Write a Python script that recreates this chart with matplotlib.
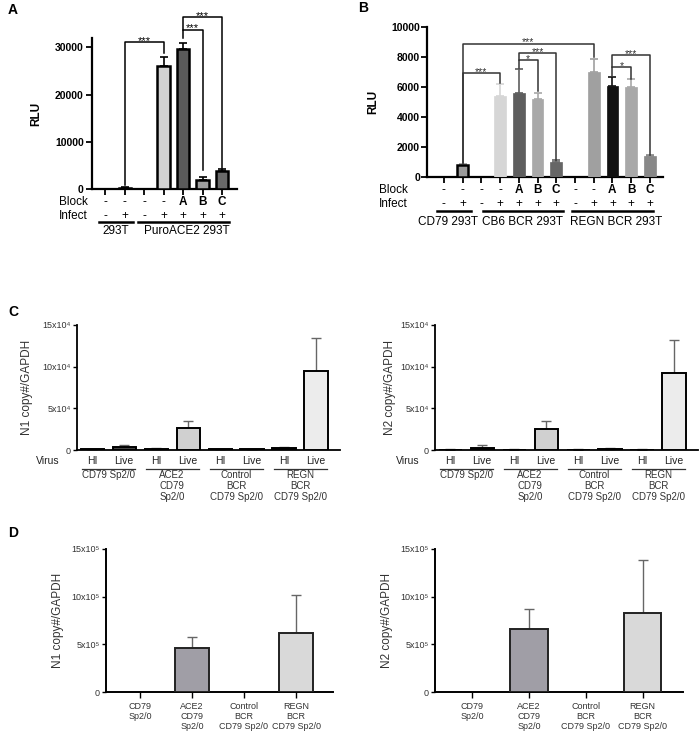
import matplotlib
matplotlib.use("Agg")
import matplotlib.pyplot as plt
from matplotlib.transforms import blended_transform_factory

plt.rcParams["font.family"] = ["Liberation Sans", "DejaVu Sans"]

W, H = 700, 732

# ---- panel A data ----
a_vals = [0, 300, 0, 26000, 29700, 1900, 3800]
a_err = [0, 80, 0, 1900, 1300, 600, 350]
a_colors = ["#888888", "#888888", "#888888", "#d3d3d3", "#5a5a5a", "#a0a0a0", "#6a6a6a"]
a_block = ["-", "-", "-", "-", "A", "B", "C"]
a_infect = ["-", "+", "-", "+", "+", "+", "+"]
a_groups = ["293T", "PuroACE2 293T"]

# ---- panel B data ----
b_vals = [30, 770, 30, 5400, 5580, 5180, 980, 30, 7020, 6050, 6030, 1400]
b_err = [0, 120, 0, 780, 1600, 440, 150, 0, 850, 600, 480, 70]
b_colors = ["#555555", "#9a9a9a", "#555555", "#d6d6d6", "#5e5e5e", "#a8a8a8",
            "#666666", "#222222", "#a0a0a0", "#111111", "#a8a8a8", "#888888"]
b_block = ["-", "-", "-", "-", "A", "B", "C", "-", "-", "A", "B", "C"]
b_infect = ["-", "+", "-", "+", "+", "+", "+", "-", "+", "+", "+", "+"]
b_groups = ["CD79 293T", "CB6 BCR 293T", "REGN BCR 293T"]

# ---- panel C data (x10^4) ----
c_ticks = ["HI", "Live"] * 4
c_groups = ["CD79 Sp2/0", "ACE2\nCD79\nSp2/0", "Control\nBCR\nCD79 Sp2/0", "REGN\nBCR\nCD79 Sp2/0"]
c1_vals = [0.1, 0.4, 0.12, 2.6, 0.1, 0.08, 0.25, 9.5]
c1_err = [0.05, 0.25, 0.08, 0.9, 0.05, 0.05, 0.1, 4.0]
c2_vals = [0.05, 0.3, 0.05, 2.5, 0.05, 0.1, 0.05, 9.2]
c2_err = [0.03, 0.25, 0.12, 0.95, 0.03, 0.15, 0.05, 4.0]
c_colors = ["#111111", "#444444", "#111111", "#d0d0d0", "#111111", "#222222", "#222222", "#ececec"]

# ---- panel D data (x10^5) ----
d_labels = ["CD79\nSp2/0", "ACE2\nCD79\nSp2/0", "Control\nBCR\nCD79 Sp2/0", "REGN\nBCR\nCD79 Sp2/0"]
d1_vals = [0, 4.58, 0, 6.2]
d1_err = [0, 1.15, 0, 4.0]
d2_vals = [0, 6.65, 0, 8.3]
d2_err = [0, 2.05, 0, 5.55]
d_colors = ["#a09ea6", "#a09ea6", "#d9d9d9", "#d9d9d9"]

fig = plt.figure(figsize=(W / 100, H / 100), dpi=100)


def add_ax(l, t, r, b):
    return fig.add_axes([l / W, 1 - b / H, (r - l) / W, (b - t) / H])


def ftext(x, y, s, **kw):
    fig.text(x / W, 1 - y / H, s, **kw)


def style(ax, lw):
    for side in ["top", "right"]:
        ax.spines[side].set_visible(False)
    ax.spines["left"].set_linewidth(lw)
    ax.spines["bottom"].set_linewidth(lw)


def bracket(ax, x1, x2, y, y1, y2, label, color="black", fs=8):
    ax.plot([x1, x1, x2, x2], [y1, y, y, y2], color=color, lw=1.1, clip_on=False)
    ax.annotate(label, ((x1 + x2) / 2, y), xytext=(0, 0.8), textcoords="offset points",
                ha="center", va="center", fontsize=fs, color=color,
                annotation_clip=False)


def table(ax, rows, ys, lab_x, names, groups, spans, centers, gy, gly, fs=8.5):
    tr = blended_transform_factory(ax.transData, fig.transFigure)
    for name, row, y in zip(names, rows, ys):
        ftext(lab_x, y, name, ha="right", va="center", fontsize=fs)
        for i, s in enumerate(row):
            w = "bold" if s in "ABC" else "normal"
            ax.text(i, 1 - y / H, s, transform=tr, ha="center", va="center",
                    fontsize=fs, fontweight=w, clip_on=False)
    for (x1, x2), c, g in zip(spans, centers, groups):
        ax.plot([x1, x2], [1 - gy / H] * 2, transform=tr, color="black", lw=1.8,
                clip_on=False)
        ax.text(c, 1 - gly / H, g, transform=tr, ha="center", va="center",
                fontsize=fs, clip_on=False)


# ================= A =================
ax = add_ax(92, 38, 237, 189)
style(ax, 1.6)
xa = list(range(len(a_vals)))
for i in xa:
    if a_vals[i] > 0:
        ax.bar(i, a_vals[i], width=0.62, color=a_colors[i], edgecolor="black",
               linewidth=1.8, zorder=3)
        ax.errorbar(i, a_vals[i], yerr=[[0], [a_err[i]]], fmt="none", ecolor="black",
                    elinewidth=1.2, capsize=3, capthick=1.2, zorder=2)
ax.set_xlim(-0.67, 6.77)
ax.set_ylim(0, 32000)
ax.set_yticks([0, 10000, 20000, 30000])
ax.set_yticklabels(["0", "10000", "20000", "30000"], fontweight="bold", fontsize=7.5)
ax.set_xticks(xa)
ax.set_xticklabels([])
ax.tick_params(axis="both", width=1.3, length=4, pad=2)
ax.set_ylabel("RLU", fontweight="bold", fontsize=8.5)
ax.yaxis.set_label_coords((42 - 92) / 145, 0.5)
bracket(ax, 1, 3, 31100, 800, 28800, "***")
bracket(ax, 4, 5, 33800, 31900, 4000, "***")
bracket(ax, 4, 6, 36400, 33800, 4450, "***")
table(ax, [a_block, a_infect], [202, 216], 88, ["Block", "Infect"], a_groups,
      [(-0.31, 1.44), (1.69, 6.36)], [0.56, 4.2], 222, 231)
ftext(8, 10, "A", fontsize=10, fontweight="bold", va="center")

# ================= B =================
ax = add_ax(427, 27, 663, 177)
style(ax, 1.6)
xb = list(range(len(b_vals)))
for i in xb:
    ec = "black" if i == 1 else b_colors[i]
    lw = 1.8 if i == 1 else 0.5
    ax.bar(i, b_vals[i], width=0.62, color=b_colors[i], edgecolor=ec,
           linewidth=lw, zorder=3)
    if b_err[i] > 0:
        ax.errorbar(i, b_vals[i], yerr=[[0], [b_err[i]]], fmt="none",
                    ecolor=b_colors[i], elinewidth=1.2, capsize=3, capthick=1.2, zorder=2)
ax.set_xlim(-0.9, 11.7)
ax.set_ylim(0, 10000)
ax.set_yticks([0, 2000, 4000, 6000, 8000, 10000])
ax.set_yticklabels(["0", "2000", "4000", "6000", "8000", "10000"], fontweight="bold",
                   fontsize=7.5)
ax.set_xticks(xb)
ax.set_xticklabels([])
ax.tick_params(axis="both", width=1.3, length=4, pad=1)
ax.set_ylabel("RLU", fontweight="bold", fontsize=8.5)
ax.yaxis.set_label_coords((379 - 427) / 236, 0.5)
bc = "#333333"
bracket(ax, 1, 8, 8900, 950, 8000, "***", bc, 7.5)
bracket(ax, 1, 3, 6900, 950, 6250, "***", bc, 7.5)
bracket(ax, 4, 6, 8250, 7800, 1150, "***", bc, 7.5)
bracket(ax, 4, 5, 7800, 7250, 5750, "*", bc, 7.5)
bracket(ax, 9, 11, 8100, 7350, 1500, "***", bc, 7.5)
bracket(ax, 9, 10, 7350, 6700, 6550, "*", bc, 7.5)
table(ax, [b_block, b_infect], [190, 204], 408, ["Block", "Infect"], b_groups,
      [(-0.37, 1.44), (2.09, 6.36), (6.84, 11.18)], [0.2, 4.2, 9.2], 211, 222)
ftext(358, 8, "B", fontsize=10, fontweight="bold", va="center")


# ================= C =================
def panel_c(box, vals, errs, ylab, ylab_x, virus_x):
    l, t, r, b = box
    ax = add_ax(l, t, r, b)
    style(ax, 1.3)
    xs = list(range(len(vals)))
    for i in xs:
        ax.bar(i, vals[i], width=0.72, color=c_colors[i], edgecolor="black",
               linewidth=1.4, zorder=3)
        ax.errorbar(i, vals[i], yerr=[[0], [errs[i]]], fmt="none", ecolor="#666666",
                    elinewidth=1.0, capsize=3.5, capthick=1.0, zorder=2)
    ax.set_xlim(-0.47, 7.75)
    ax.set_ylim(0, 15)
    ax.set_yticks([0, 5, 10, 15])
    ax.set_yticklabels(["0", "5x10⁴", "10x10⁴", "15x10⁴"], fontsize=6.5, color="#333333")
    ax.set_xticks(xs)
    ax.set_xticklabels(c_ticks, fontsize=7.5, color="#222222")
    ax.tick_params(axis="x", length=0, pad=4)
    ax.tick_params(axis="y", length=3, width=1.0, pad=1.5)
    ftext(ylab_x, (t + b) / 2, ylab, rotation=90, ha="center", va="center",
          fontsize=8.5, color="#333333")
    ftext(virus_x, 461, "Virus", ha="right", va="center", fontsize=7.5, color="#222222")
    tr = blended_transform_factory(ax.transData, fig.transFigure)
    for k, g in enumerate(c_groups):
        x0 = 2 * k
        ax.plot([x0 - 0.3, x0 + 1.35], [1 - 469 / H] * 2, transform=tr,
                color="#333333", lw=0.9, clip_on=False)
        ax.text(x0 + 0.5, 1 - 470 / H, g, transform=tr, ha="center", va="top",
                fontsize=7, color="#333333", linespacing=1.15, clip_on=False)
    return ax


panel_c((77, 325, 340, 450), c1_vals, c1_err, "N1 copy#/GAPDH", 27, 60)
panel_c((435, 325, 698, 450), c2_vals, c2_err, "N2 copy#/GAPDH", 390, 420)
ftext(8, 312, "C", fontsize=10, fontweight="bold", va="center")


# ================= D =================
def panel_d(box, vals, errs, ylab, ylab_x):
    l, t, r, b = box
    ax = add_ax(l, t, r, b)
    style(ax, 1.4)
    xs = list(range(len(vals)))
    for i in xs:
        if vals[i] > 0:
            ax.bar(i, vals[i], width=0.66, color=d_colors[i], edgecolor="#222222",
                   linewidth=1.4, zorder=3)
            ax.errorbar(i, vals[i], yerr=[[0], [errs[i]]], fmt="none",
                        ecolor="#666666", elinewidth=1.0, capsize=3.5, capthick=1.0,
                        zorder=2)
    ax.set_xlim(-0.65, 3.71)
    ax.set_ylim(0, 15)
    ax.set_yticks([0, 5, 10, 15])
    ax.set_yticklabels(["0", "5x10⁵", "10x10⁵", "15x10⁵"], fontsize=6.5, color="#333333")
    ax.set_xticks(xs)
    ax.set_xticklabels(d_labels, fontsize=6.5, color="#333333", linespacing=1.15)
    ax.tick_params(axis="x", length=4, width=1.0, pad=3)
    ax.tick_params(axis="y", length=3, width=1.0, pad=1.5)
    ftext(ylab_x, (t + b) / 2, ylab, rotation=90, ha="center", va="center",
          fontsize=8.5, color="#333333")
    return ax


panel_d((106, 549, 333, 692), d1_vals, d1_err, "N1 copy#/GAPDH", 58)
panel_d((435, 549, 683, 692), d2_vals, d2_err, "N2 copy#/GAPDH", 387)
ftext(8, 533, "D", fontsize=10, fontweight="bold", va="center")

fig.savefig("out.png", dpi=100)
